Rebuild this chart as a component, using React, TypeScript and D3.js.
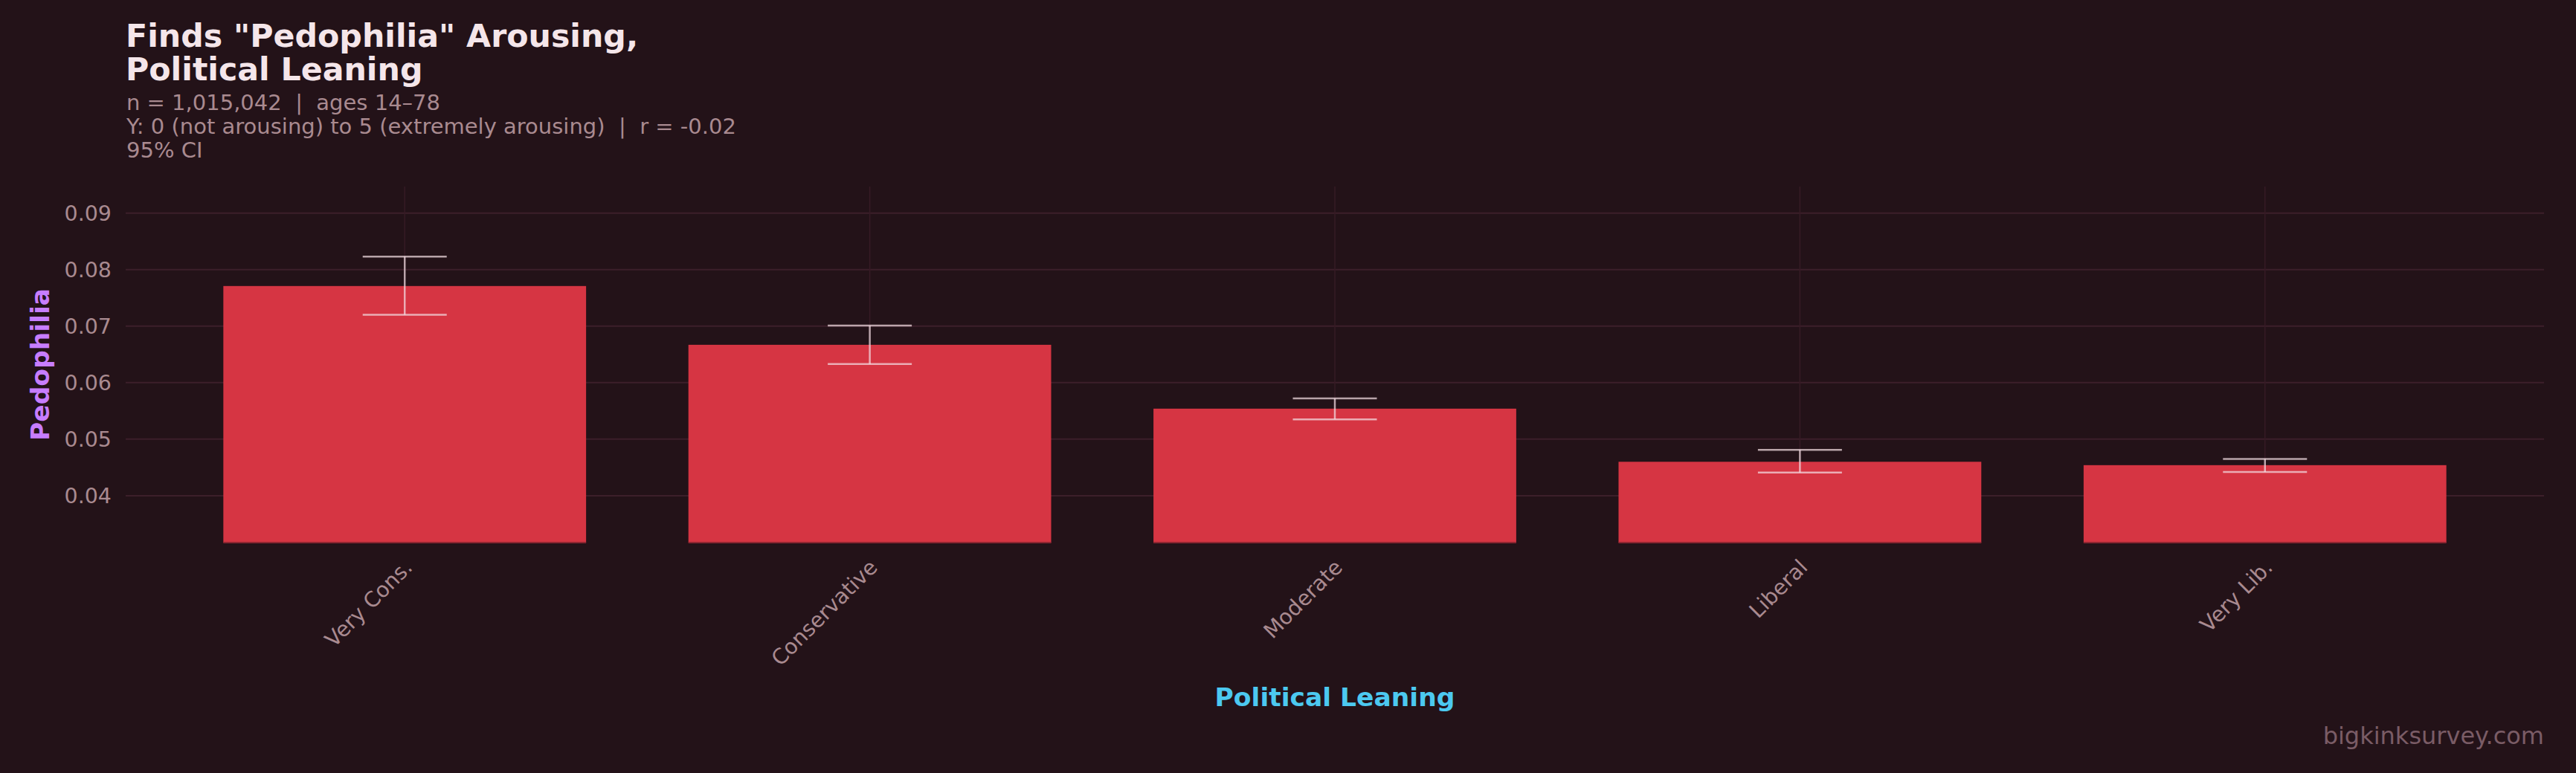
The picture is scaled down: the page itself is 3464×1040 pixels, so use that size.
import React from 'react';
import * as d3 from 'd3';

const categories = ['Very Cons.', 'Conservative', 'Moderate', 'Liberal', 'Very Lib.'];
const means = [0.0771, 0.0667, 0.0554, 0.046, 0.0454];
const ciLow = [0.072, 0.0633, 0.0535, 0.0441, 0.0442];
const ciHigh = [0.0823, 0.0701, 0.0572, 0.0481, 0.0465];
const yTicks = [0.04, 0.05, 0.06, 0.07, 0.08, 0.09];

const titleLines = ['Finds "Pedophilia" Arousing,', 'Political Leaning'];
const subtitleLines = [
  'n = 1,015,042  |  ages 14\u201378',
  'Y: 0 (not arousing) to 5 (extremely arousing)  |  r = -0.02',
  '95% CI',
];

const W = 3464;
const H = 1040;
const FONT = '"DejaVu Sans", sans-serif';

const App: React.FC = () => {
  const left = 169;
  const right = 3421;
  const top = 251;
  const bottom = 730;

  const x = d3.scalePoint<string>().domain(categories).range([left, right]).padding(0.6);
  const y = d3.scaleLinear().domain([0.0317, 0.0947]).range([bottom, top]);
  const barW = x.step() * 0.78;
  const capW = 113;

  return (
    <svg
      width={W}
      height={H}
      style={{ position: 'absolute', left: 0, top: 0, background: '#231218' }}
      fontFamily={FONT}
    >
      <rect width={W} height={H} fill="#231218" />

      {/* title + subtitle */}
      {titleLines.map((t, i) => (
        <text key={t} x={169} y={63 + i * 45} fontSize={42.7} fontWeight="bold" fill="#f5e6ea">
          {t}
        </text>
      ))}
      {subtitleLines.map((t, i) => (
        <text key={t} x={170} y={148 + i * 32} fontSize={29} fill="#a98a90" style={{ whiteSpace: 'pre' }}>
          {t}
        </text>
      ))}

      {/* grid */}
      {yTicks.map((t) => (
        <line key={t} x1={left} x2={right} y1={y(t)} y2={y(t)} stroke="#3c1f2a" strokeWidth={2} />
      ))}
      {categories.map((c) => (
        <line key={c} x1={x(c)} x2={x(c)} y1={top} y2={bottom} stroke="#361b25" strokeWidth={1.5} />
      ))}

      {/* bars */}
      {categories.map((c, i) => (
        <g key={c}>
          <rect
            x={x(c)! - barW / 2}
            y={y(means[i])}
            width={barW}
            height={bottom - y(means[i])}
            fill="#d63543"
          />
          <line x1={x(c)! - barW / 2} x2={x(c)! + barW / 2} y1={bottom} y2={bottom} stroke="#8f2531" strokeWidth={2} />
        </g>
      ))}

      {/* error bars */}
      {categories.map((c, i) => (
        <g key={c} stroke="#f2dde2" strokeOpacity={0.72} strokeWidth={2.5}>
          <line x1={x(c)} x2={x(c)} y1={y(ciLow[i])} y2={y(ciHigh[i])} />
          <line x1={x(c)! - capW / 2} x2={x(c)! + capW / 2} y1={y(ciHigh[i])} y2={y(ciHigh[i])} />
          <line x1={x(c)! - capW / 2} x2={x(c)! + capW / 2} y1={y(ciLow[i])} y2={y(ciLow[i])} />
        </g>
      ))}

      {/* y axis */}
      {yTicks.map((t) => (
        <text key={t} x={150} y={y(t)} dy="0.36em" textAnchor="end" fontSize={28.5} fill="#a98a90">
          {d3.format('.2f')(t)}
        </text>
      ))}
      <text
        transform={`translate(66,${(top + bottom) / 2}) rotate(-90)`}
        textAnchor="middle"
        fontSize={34.5}
        fontWeight="bold"
        fill="#c77dff"
      >
        Pedophilia
      </text>

      {/* x axis */}
      {categories.map((c) => (
        <text
          key={c}
          transform={`translate(${x(c)! + 12},765) rotate(-45)`}
          textAnchor="end"
          fontSize={28.5}
          fill="#a98a90"
        >
          {c}
        </text>
      ))}
      <text x={(left + right) / 2} y={950} textAnchor="middle" fontSize={34.5} fontWeight="bold" fill="#4cc9f0">
        Political Leaning
      </text>

      <text x={right} y={1001} textAnchor="end" fontSize={32} fill="#7a5c66">
        bigkinksurvey.com
      </text>
    </svg>
  );
};

export default App;
